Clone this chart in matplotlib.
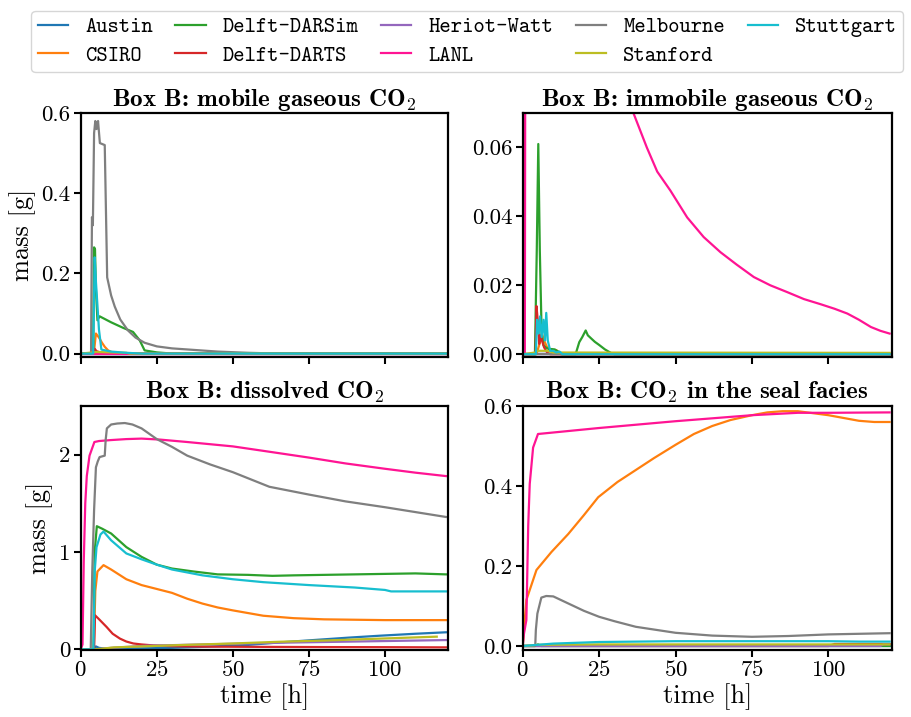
import matplotlib
matplotlib.use("Agg")
import matplotlib.pyplot as plt
from matplotlib.font_manager import FontProperties

plt.rcParams["font.family"] = "serif"
plt.rcParams["font.serif"] = ["cmr10"]
plt.rcParams["mathtext.fontset"] = "cm"
plt.rcParams["axes.formatter.use_mathtext"] = True
plt.rcParams["axes.unicode_minus"] = False

GROUPS = ["Austin", "CSIRO", "Delft-DARSim", "Delft-DARTS", "Heriot-Watt",
          "LANL", "Melbourne", "Stanford", "Stuttgart"]
COLORS = ["tab:blue", "tab:orange", "tab:green", "tab:red", "tab:purple",
          "deeppink", "tab:gray", "tab:olive", "tab:cyan"]

T_END = 120

# ---- Box B: mobile gaseous CO2 ----
mob_t = {
    "Austin": [0, T_END],
    "CSIRO": [0, 4.3, 5.0, 6.0, 7.0, 7.9, 9, 10.4, 12, T_END],
    "Delft-DARSim": [0, 4.1, 4.4, 4.7, 5.0, 5.5, 6.2, 10, 14, 17.2, 19.4, 21, 25, 30, T_END],
    "Delft-DARTS": [0, 4.2, 4.6, 5.2, 6, 8, T_END],
    "Heriot-Watt": [0, T_END],
    "LANL": [0, T_END],
    "Melbourne": [0, 3.4, 3.7, 4.0, 4.4, 4.8, 5.2, 5.7, 6.3, 7.9, 8.7, 10, 11.2, 13, 15.5, 18, 21,
                  25, 30, 37.5, 45, 55, 65, T_END],
    "Stanford": [0, 4, 5, 10, 15, 16, T_END],
    "Stuttgart": [0, 4.1, 4.6, 5.0, 6.0, 6.8, 10, 15, 20, T_END],
}
mob_m = {
    "Austin": [0, 0],
    "CSIRO": [0, 0, 0.05, 0.04, 0.027, 0.017, 0.008, 0.003, 0, 0],
    "Delft-DARSim": [0, 0, 0.265, 0.26, 0.16, 0.083, 0.093, 0.078, 0.064, 0.054, 0.033, 0.008, 0.003, 0, 0],
    "Delft-DARTS": [0, 0, 0.012, 0.006, 0.004, 0, 0],
    "Heriot-Watt": [0, 0],
    "LANL": [0, 0],
    "Melbourne": [0, 0, 0.34, 0.32, 0.55, 0.58, 0.56, 0.58, 0.525, 0.52, 0.19, 0.145, 0.117, 0.085,
                  0.058, 0.04, 0.027, 0.018, 0.013, 0.009, 0.005, 0.002, 0, 0],
    "Stanford": [0, 0.003, 0.004, 0.003, 0.002, 0, 0],
    "Stuttgart": [0, 0, 0.24, 0.18, 0.06, 0.01, 0.005, 0.002, 0, 0],
}

# ---- Box B: immobile gaseous CO2 ----
imm_t = {
    "Austin": [0, T_END],
    "CSIRO": [0, 4.5, 5.5, 6.3, 7, 8, 9, 10, 11, 12, 13, T_END],
    "Delft-DARSim": [0, 4.0, 4.6, 5.1, 5.6, 6.2, 6.8, 7.5, 8.5, 9.5, 10.5, 11.5, 12.5, 17.3, 18.5,
                     19.5, 20.6, 21.3, 22.5, 23.6, 25, 26.9, 29, 30, T_END],
    "Delft-DARTS": [0, 4.2, 4.5, 5.0, 5.4, 5.8, 6.3, 7, 8, 9, T_END],
    "Heriot-Watt": [0, T_END],
    "LANL": [0, 0.7, 1.0, 2, 5, 10, 20, 30, 36.3, 40.6, 44, 48.3, 53.8, 59.2, 64.7, 70, 75.6, 81,
             86.6, 92, 97.5, 102, 106.2, 110, 113.9, 117, T_END],
    "Melbourne": [0, T_END],
    "Stanford": [0, 4, 5, 8, 10, T_END],
    "Stuttgart": [0, 4.3, 4.7, 5.2, 5.7, 6.2, 6.8, 7.3, 7.7, 8.2, 9, 10, 11, 12, 13, T_END],
}
imm_m = {
    "Austin": [0, 0],
    "CSIRO": [0, 0, 0.003, 0.006, 0.004, 0.002, 0.0015, 0.001, 0.0012, 0.0005, 0, 0],
    "Delft-DARSim": [0, 0, 0.03, 0.061, 0.03, 0.006, 0.0026, 0.002, 0.0015, 0.0015, 0.0014, 0.0008,
                     0, 0, 0.0035, 0.005, 0.0069, 0.0055, 0.0045, 0.0036, 0.0027, 0.0014, 0.0003, 0, 0],
    "Delft-DARTS": [0, 0, 0.014, 0.009, 0.003, 0.0055, 0.004, 0.002, 0.0005, 0, 0],
    "Heriot-Watt": [0, 0],
    "LANL": [0, 0, 0.2, 0.25, 0.22, 0.17, 0.11, 0.08, 0.0698, 0.060, 0.053, 0.0475, 0.0397, 0.034,
             0.0296, 0.026, 0.0224, 0.020, 0.018, 0.016, 0.0145, 0.0132, 0.0118, 0.0100, 0.0079,
             0.0068, 0.006],
    "Melbourne": [0, 0],
    "Stanford": [0, 0.0005, 0.001, 0.001, 0.0005, 0.0004],
    "Stuttgart": [0, 0, 0.01, 0.006, 0.011, 0.005, 0.01, 0.004, 0.012, 0.004, 0.001, 0.001, 0.0005,
                  0.0008, 0, 0],
}

# ---- Box B: dissolved CO2 ----
dis_t = {
    "Austin": [0, 4.3, 5, 6, 8, 10, 20, 30, 40, 54.5, 65, 76.4, 88, 98.4, 110, T_END],
    "CSIRO": [0, 4.3, 4.8, 5.5, 7.5, 10, 15, 20, 25, 30, 35, 40, 45, 50, 60, 70, 80, 100, T_END],
    "Delft-DARSim": [0, 4.2, 4.6, 5.3, 7, 10, 15, 20, 25, 30, 37, 45, 55, 63, 70, 80, 90, 100, 110, T_END],
    "Delft-DARTS": [0, 4.4, 4.7, 6, 8.5, 10.5, 12.9, 15, 17.3, 20, 24, 30, 40, 60, 80, 100, T_END],
    "Heriot-Watt": [0, 5, 10, 21.7, 40, 65.6, 90, T_END],
    "LANL": [0, 0.6, 1.0, 1.5, 2.0, 2.9, 4.5, 6, 10, 15, 20, 26, 35, 50, 62, 75, 87, 100, 110, T_END],
    "Melbourne": [0, 3.3, 3.8, 4.4, 5.0, 5.6, 6.2, 7.9, 8.2, 8.6, 10, 12, 14.5, 17, 20, 25, 30, 35,
                  42.5, 50, 62, 75, 87, 100, 110, T_END],
    "Stanford": [0, 5, 11, 20, 32.9, 50, 65.6, 80, 98.4, 117],
    "Stuttgart": [0, 4.2, 4.6, 5.2, 6.5, 7.5, 10, 15, 20, 25, 30, 40, 50, 60, 75, 90, 100, 102, T_END],
}
dis_m = {
    "Austin": [0, 0, 0.03, 0.015, 0.008, 0.007, 0.01, 0.015, 0.025, 0.044, 0.07, 0.095, 0.12, 0.14,
               0.16, 0.175],
    "CSIRO": [0, 0, 0.6, 0.8, 0.865, 0.82, 0.72, 0.66, 0.62, 0.58, 0.52, 0.47, 0.43, 0.40, 0.345,
              0.32, 0.308, 0.30, 0.30],
    "Delft-DARSim": [0, 0, 1.0, 1.265, 1.24, 1.19, 1.05, 0.95, 0.87, 0.83, 0.80, 0.77, 0.765, 0.755,
                     0.76, 0.765, 0.77, 0.775, 0.78, 0.77],
    "Delft-DARTS": [0, 0, 0.35, 0.31, 0.23, 0.16, 0.11, 0.08, 0.06, 0.05, 0.04, 0.032, 0.028, 0.025,
                    0.023, 0.022, 0.02],
    "Heriot-Watt": [0, 0, 0.015, 0.037, 0.05, 0.068, 0.08, 0.095],
    "LANL": [0, 0.05, 0.9, 1.5, 1.78, 1.99, 2.13, 2.14, 2.15, 2.16, 2.165, 2.155, 2.13, 2.085, 2.03,
             1.97, 1.91, 1.855, 1.815, 1.78],
    "Melbourne": [0, 0, 0.8, 1.43, 1.87, 1.93, 1.975, 1.99, 2.15, 2.27, 2.31, 2.32, 2.325, 2.31,
                  2.27, 2.16, 2.08, 1.99, 1.90, 1.82, 1.67, 1.59, 1.52, 1.46, 1.41, 1.36],
    "Stanford": [0, 0, 0.02, 0.03, 0.044, 0.06, 0.078, 0.09, 0.11, 0.13],
    "Stuttgart": [0, 0, 0.8, 1.05, 1.18, 1.21, 1.12, 0.985, 0.925, 0.87, 0.82, 0.76, 0.72, 0.69,
                  0.66, 0.635, 0.61, 0.595, 0.595],
}

# ---- Box B: CO2 in the seal facies ----
seal_t = {
    "Austin": [0, T_END],
    "CSIRO": [0, 1.2, 4.5, 9.4, 14.9, 20, 24.7, 31, 37, 43, 50, 56, 62, 68, 75, 80, 85, 90, 95, 100,
              105, 110, 115, T_END],
    "Delft-DARSim": [0, 4, 5, 6, T_END],
    "Delft-DARTS": [0, 100, 102, T_END],
    "Heriot-Watt": [0, 117, 118, T_END],
    "LANL": [0, 0.4, 1.2, 1.8, 2.3, 3.4, 5, 25, 50, 75, 90, 100, T_END],
    "Melbourne": [0, 4.1, 4.3, 4.8, 6.1, 7.7, 10, 15, 20, 25, 30, 37, 50, 62, 75, 87, 100, T_END],
    "Stanford": [0, 5, 25, T_END],
    "Stuttgart": [0, 5, 10, 25, 50, 80, 100, 110, T_END],
}
seal_m = {
    "Austin": [0, 0],
    "CSIRO": [0, 0.115, 0.19, 0.235, 0.28, 0.327, 0.372, 0.41, 0.44, 0.47, 0.503, 0.53, 0.55, 0.565,
              0.577, 0.584, 0.587, 0.587, 0.582, 0.577, 0.57, 0.563, 0.56, 0.56],
    "Delft-DARSim": [0, 0, 0.004, 0, 0],
    "Delft-DARTS": [0, 0, 0.005, 0.005],
    "Heriot-Watt": [0, 0, 0.004, 0.004],
    "LANL": [0, 0.03, 0.065, 0.3, 0.405, 0.496, 0.53, 0.545, 0.562, 0.577, 0.583, 0.583, 0.584],
    "Melbourne": [0, 0, 0.04, 0.081, 0.121, 0.125, 0.124, 0.106, 0.088, 0.073, 0.062, 0.048, 0.033,
                  0.026, 0.023, 0.025, 0.029, 0.032],
    "Stanford": [0, 0.003, 0.004, 0.004],
    "Stuttgart": [0, 0.003, 0.006, 0.01, 0.012, 0.012, 0.012, 0.011, 0.011],
}

panels = [
    ("Box B: mobile gaseous CO", mob_t, mob_m, (-0.0085, 0.6), [0, 0.2, 0.4, 0.6], "{:.1f}"),
    ("Box B: immobile gaseous CO", imm_t, imm_m, (-0.0008, 0.07), [0, 0.02, 0.04, 0.06], "{:.2f}"),
    ("Box B: dissolved CO", dis_t, dis_m, (-0.007, 2.5), [0, 1, 2], "{:.0f}"),
    ("Box B: CO", seal_t, seal_m, (-0.01, 0.6), [0, 0.2, 0.4, 0.6], "{:.1f}"),
]
title_tail = ["", "", "", " in the seal facies"]

W, H = 911, 717
fig = plt.figure(figsize=(W / 100, H / 100), dpi=100)
boxes = [(80.7, 113, 448, 357), (522.7, 113, 891.7, 357),
         (80.7, 406, 448, 650), (522.7, 406, 891.7, 650)]

for i, (title, tt, mm, ylim, yticks, fmt) in enumerate(panels):
    x0, y0, x1, y1 = boxes[i]
    ax = fig.add_axes([x0 / W, 1 - y1 / H, (x1 - x0) / W, (y1 - y0) / H])
    for g, c in zip(GROUPS, COLORS):
        ax.plot(tt[g], mm[g], color=c, lw=1.6, label=g)
    ax.set_xlim(0, 120.7)
    ax.set_ylim(*ylim)
    ax.set_xticks([0, 25, 50, 75, 100])
    ax.set_yticks(yticks)
    ax.set_yticklabels([fmt.format(v) for v in yticks])
    ax.tick_params(labelsize=16.5, width=1.5, length=5, pad=2.5)
    for s in ax.spines.values():
        s.set_linewidth(1.6)
    ax.set_title(title + r"$_2$" + title_tail[i], fontfamily="cmb10", fontsize=18, pad=5)
    if i < 2:
        ax.set_xticklabels([])
    else:
        ax.set_xlabel("time [h]", fontsize=19, labelpad=2)
    if i % 2 == 0:
        ax.set_ylabel("mass [g]", fontsize=19, labelpad=4)

handles, labels = ax.get_legend_handles_labels()
fig.legend(handles, labels, loc="upper center", bbox_to_anchor=(0.513, 1.0), ncol=5,
           prop=FontProperties(family="cmtt10", size=15.5), frameon=True,
           handlelength=1.4, handletextpad=0.8, columnspacing=1.05, borderpad=0.3,
           labelspacing=0.4)

fig.savefig("out.png", dpi=100)
